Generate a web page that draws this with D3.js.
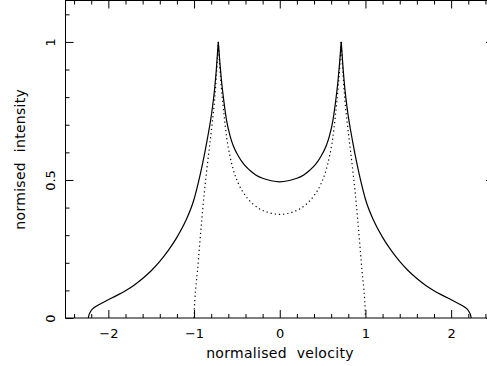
<!DOCTYPE html>
<html>
<head>
<meta charset="utf-8">
<script src="https://cdn.jsdelivr.net/npm/d3@7"></script>
<style>
  html, body { margin: 0; padding: 0; background: #fff; }
  svg { display: block; }
  text { font-family: "DejaVu Sans", sans-serif; fill: #000; }
</style>
</head>
<body>
<div id="chart"></div>
<script>
// values
const solidVelocity = [-2.234, -2.225, -2.2, -2.16, -2.1, -2.0, -1.9, -1.8, -1.7, -1.6, -1.5, -1.4, -1.3, -1.2, -1.1, -1.0,
  -0.95, -0.9, -0.85, -0.8, -0.76, -0.74, -0.717, -0.7, -0.68, -0.65, -0.62, -0.58, -0.54, -0.48, -0.42, -0.35, -0.28,
  -0.2, -0.1, 0, 0.1, 0.2, 0.28, 0.35, 0.42, 0.48, 0.54, 0.58, 0.62, 0.65, 0.68, 0.7, 0.717, 0.74, 0.76, 0.8, 0.85, 0.9,
  0.95, 1.0, 1.1, 1.2, 1.3, 1.4, 1.5, 1.6, 1.7, 1.8, 1.9, 2.0, 2.1, 2.16, 2.2, 2.225, 2.234];
const solidIntensity = [0, 0.012, 0.027, 0.039, 0.05, 0.066, 0.082, 0.099, 0.119, 0.143, 0.171, 0.205, 0.245, 0.292, 0.35, 0.43,
  0.49, 0.56, 0.64, 0.73, 0.83, 0.9, 1.0, 0.93, 0.86, 0.78, 0.715, 0.66, 0.622, 0.585, 0.557, 0.535, 0.518,
  0.506, 0.497, 0.493, 0.497, 0.506, 0.518, 0.535, 0.557, 0.585, 0.622, 0.66, 0.715, 0.78, 0.86, 0.93, 1.0, 0.9, 0.83, 0.73, 0.64, 0.56,
  0.49, 0.43, 0.35, 0.292, 0.245, 0.205, 0.171, 0.143, 0.119, 0.099, 0.082, 0.066, 0.05, 0.039, 0.027, 0.012, 0];

const dottedVelocity = [-1.0, -0.997, -0.99, -0.98, -0.96, -0.94, -0.91, -0.88, -0.85, -0.82, -0.79, -0.76, -0.74, -0.717,
  -0.7, -0.68, -0.65, -0.62, -0.58, -0.54, -0.48, -0.4, -0.32, -0.24, -0.16, -0.08, 0, 0.08, 0.16, 0.24, 0.32, 0.4, 0.48,
  0.54, 0.58, 0.62, 0.65, 0.68, 0.7, 0.717, 0.74, 0.76, 0.79, 0.82, 0.85, 0.88, 0.91, 0.94, 0.96, 0.98, 0.99, 0.997, 1.0];
const dottedIntensity = [0, 0.03, 0.07, 0.11, 0.17, 0.245, 0.355, 0.455, 0.54, 0.62, 0.7, 0.79, 0.875, 1.0,
  0.91, 0.83, 0.735, 0.655, 0.585, 0.535, 0.485, 0.443, 0.415, 0.396, 0.385, 0.378, 0.375, 0.378, 0.385, 0.396, 0.415, 0.443, 0.485,
  0.535, 0.585, 0.655, 0.735, 0.83, 0.91, 1.0, 0.875, 0.79, 0.7, 0.62, 0.54, 0.455, 0.355, 0.245, 0.17, 0.11, 0.07, 0.03, 0];

const xMajorTicks = [-2, -1, 0, 1, 2];
const xMinorTicks = [-2.4, -2.2, -1.8, -1.6, -1.4, -1.2, -0.8, -0.6, -0.4, -0.2, 0.2, 0.4, 0.6, 0.8, 1.2, 1.4, 1.6, 1.8, 2.2, 2.4];
const yMajorTicks = [0, 0.5, 1];
const yMinorTicks = [0.1, 0.2, 0.3, 0.4, 0.6, 0.7, 0.8, 0.9, 1.1];

const xLabel = "normalised velocity";
const yLabel = "normised intensity";

const W = 487, H = 366;
const plotLeft = 65.5, plotRight = 494, plotTop = 0.5, plotBottom = 318;

const x = d3.scaleLinear().domain([-2.5, 2.5]).range([plotLeft, plotRight]);
const y = d3.scaleLinear().domain([0, 1.15]).range([plotBottom, plotTop]);

const svg = d3.select("#chart").append("svg")
  .attr("width", W)
  .attr("height", H);

svg.append("rect").attr("width", W).attr("height", H).attr("fill", "#fff");

const fmt = d3.format("~g");

// frame
svg.append("rect")
  .attr("x", plotLeft).attr("y", plotTop)
  .attr("width", plotRight - plotLeft).attr("height", plotBottom - plotTop)
  .attr("fill", "none").attr("stroke", "#000").attr("stroke-width", 1);

const styleAxis = (g) => {
  g.select(".domain").remove();
  g.selectAll("line").attr("stroke", "#000").attr("stroke-width", 1);
};

// bottom
svg.append("g")
  .attr("transform", `translate(0, ${plotBottom})`)
  .call(d3.axisBottom(x).tickValues(xMajorTicks).tickSize(-8).tickPadding(11).tickFormat(fmt))
  .call(styleAxis)
  .call(g => g.selectAll("text").attr("font-size", 13).attr("font-family", "DejaVu Sans"));
svg.append("g")
  .attr("transform", `translate(0, ${plotBottom})`)
  .call(d3.axisBottom(x).tickValues(xMinorTicks).tickSize(-4).tickFormat(""))
  .call(styleAxis);

// top
svg.append("g")
  .attr("transform", `translate(0, ${plotTop})`)
  .call(d3.axisTop(x).tickValues(xMajorTicks).tickSize(-8).tickFormat(""))
  .call(styleAxis);
svg.append("g")
  .attr("transform", `translate(0, ${plotTop})`)
  .call(d3.axisTop(x).tickValues(xMinorTicks).tickSize(-4).tickFormat(""))
  .call(styleAxis);

// left
svg.append("g")
  .attr("transform", `translate(${plotLeft}, 0)`)
  .call(d3.axisLeft(y).tickValues(yMajorTicks).tickSize(-8).tickFormat(fmt))
  .call(styleAxis)
  .call(g => g.selectAll("text")
    .attr("x", 0).attr("dy", 0)
    .attr("text-anchor", "middle")
    .attr("font-size", 13).attr("font-family", "DejaVu Sans")
    .attr("transform", "translate(-10.5, 0) rotate(-90)"));
svg.append("g")
  .attr("transform", `translate(${plotLeft}, 0)`)
  .call(d3.axisLeft(y).tickValues(yMinorTicks).tickSize(-4).tickFormat(""))
  .call(styleAxis);

// right
svg.append("g")
  .attr("transform", `translate(${plotRight}, 0)`)
  .call(d3.axisRight(y).tickValues(yMajorTicks).tickSize(-8).tickFormat(""))
  .call(styleAxis);
svg.append("g")
  .attr("transform", `translate(${plotRight}, 0)`)
  .call(d3.axisRight(y).tickValues(yMinorTicks).tickSize(-4).tickFormat(""))
  .call(styleAxis);

// axis titles
svg.append("text")
  .attr("x", 280).attr("y", 358)
  .attr("text-anchor", "middle")
  .attr("font-size", 14)
  .attr("letter-spacing", 0.3)
  .attr("word-spacing", 5)
  .text(xLabel);

svg.append("text")
  .attr("transform", `translate(25, ${(plotTop + plotBottom) / 2}) rotate(-90)`)
  .attr("text-anchor", "middle")
  .attr("font-size", 14)
  .attr("letter-spacing", 0.3)
  .attr("word-spacing", 5)
  .text(yLabel);

const line = d3.line()
  .x(d => x(d[0]))
  .y(d => y(d[1]))
  .curve(d3.curveMonotoneX);

// split a profile at its peaks so the cusps stay sharp
const splitAtPeaks = (vs, is) => {
  const pts = d3.zip(vs, is);
  const pieces = [];
  let start = 0;
  for (let i = 1; i < pts.length - 1; i++) {
    if (pts[i][1] > pts[i - 1][1] && pts[i][1] > pts[i + 1][1]) {
      pieces.push(pts.slice(start, i + 1));
      start = i;
    }
  }
  pieces.push(pts.slice(start));
  return pieces;
};

svg.append("path")
  .attr("d", splitAtPeaks(solidVelocity, solidIntensity).map(line).join(""))
  .attr("fill", "none")
  .attr("stroke", "#000")
  .attr("stroke-width", 1.2)
  .attr("stroke-linejoin", "miter")
  .attr("stroke-miterlimit", 20);

svg.append("path")
  .attr("d", splitAtPeaks(dottedVelocity, dottedIntensity).map(line).join(""))
  .attr("fill", "none")
  .attr("stroke", "#000")
  .attr("stroke-width", 1.2)
  .attr("stroke-dasharray", "1.2 3");
</script>
</body>
</html>
